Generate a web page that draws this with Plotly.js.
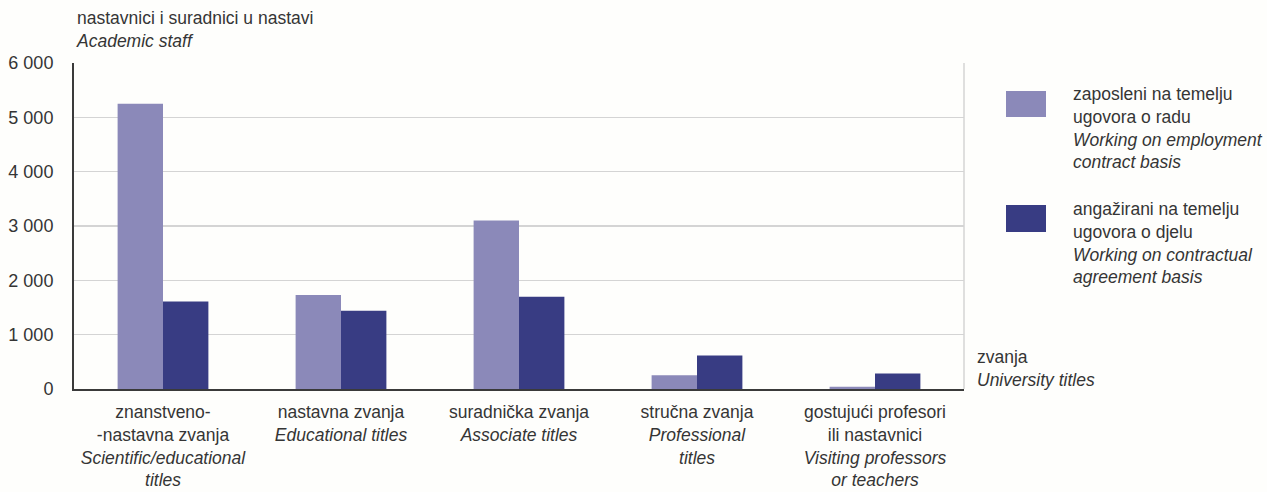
<!DOCTYPE html>
<html>
<head>
<meta charset="utf-8">
<script src="https://cdn.plot.ly/plotly-3.0.1.min.js"></script>
<style>html,body{margin:0;padding:0;background:#fefefc;}#chart{width:1267px;height:492px;}</style>
</head>
<body>
<div id="chart"></div>
<script>
const categories = [
  "znanstveno-<br>-nastavna zvanja<br><i>Scientific/educational</i><br><i>titles</i>",
  "nastavna zvanja<br><i>Educational titles</i>",
  "suradnička zvanja<br><i>Associate titles</i>",
  "stručna zvanja<br><i>Professional</i><br><i>titles</i>",
  "gostujući profesori<br>ili nastavnici<br><i>Visiting professors</i><br><i>or teachers</i>"
];
const employment = [5250, 1730, 3100, 255, 40];
const contractual = [1610, 1440, 1700, 615, 285];
const seriesNames = [
  "zaposleni na temelju<br>ugovora o radu<br><i>Working on employment</i><br><i>contract basis</i>",
  "angažirani na temelju<br>ugovora o djelu<br><i>Working on contractual</i><br><i>agreement basis</i>"
];
const seriesColors = ["#8b89b9", "#383c83"];
const yTitle = "nastavnici i suradnici u nastavi<br><i>Academic staff</i>";
const xTitle = "zvanja<br><i>University titles</i>";

const FONT = "Liberation Sans, Arial, sans-serif";
const TXT = "#353535";
const FS = 17.5;

const traces = [
  {type: "bar", x: categories, y: employment, name: seriesNames[0], marker: {color: seriesColors[0]}, showlegend: false, hoverinfo: "y"},
  {type: "bar", x: categories, y: contractual, name: seriesNames[1], marker: {color: seriesColors[1]}, showlegend: false, hoverinfo: "y"}
];

// plot area: x 74..964, y 63..389 (height 326)
const H = 326;
function py(pix) { return (389 - pix) / H; }
function px(pix) { return (pix - 74) / 890; }

const annotations = [
  {xref: "paper", yref: "paper", x: 0.0, xshift: 0, y: py(6), xanchor: "left", yanchor: "top", align: "left",
   text: yTitle, showarrow: false, font: {family: FONT, size: FS, color: TXT}},
  {xref: "paper", yref: "paper", x: 1.0, xshift: 11, y: py(345), xanchor: "left", yanchor: "top", align: "left",
   text: xTitle, showarrow: false, font: {family: FONT, size: FS, color: TXT}},
  {xref: "paper", yref: "paper", x: 1.0, xshift: 107, y: py(82), xanchor: "left", yanchor: "top", align: "left",
   text: seriesNames[0], showarrow: false, font: {family: FONT, size: FS, color: TXT}},
  {xref: "paper", yref: "paper", x: 1.0, xshift: 107, y: py(197), xanchor: "left", yanchor: "top", align: "left",
   text: seriesNames[1], showarrow: false, font: {family: FONT, size: FS, color: TXT}}
];

const shapes = [
  {type: "line", xref: "paper", yref: "paper", x0: 1, x1: 1, y0: 0, y1: 1, line: {color: "#d4d4d4", width: 1.5}},
  {type: "rect", xref: "paper", yref: "paper", x0: px(1006), x1: px(1046), y0: py(117), y1: py(91),
   fillcolor: seriesColors[0], line: {width: 0}},
  {type: "rect", xref: "paper", yref: "paper", x0: px(1006), x1: px(1046), y0: py(232), y1: py(205),
   fillcolor: seriesColors[1], line: {width: 0}}
];

const layout = {
  width: 1267, height: 492,
  margin: {l: 74, r: 303, t: 63, b: 103, pad: 0},
  paper_bgcolor: "#fefefc", plot_bgcolor: "#fefefc",
  font: {family: FONT, size: FS, color: TXT},
  separators: ", ",
  barmode: "group", bargap: 0.49, bargroupgap: 0,
  showlegend: false,
  xaxis: {
    type: "category", showgrid: false, zeroline: false,
    showline: true, linecolor: "#3a3a3a", linewidth: 2,
    ticks: "", tickfont: {family: FONT, size: FS, color: TXT},
    ticklabelstandoff: 6,
    automargin: false, fixedrange: true
  },
  yaxis: {
    range: [0, 6000], dtick: 1000, tick0: 0, tickformat: ",d",
    showgrid: true, gridcolor: "#d4d4d4", gridwidth: 1.5,
    zeroline: false, showline: true, linecolor: "#3a3a3a", linewidth: 2,
    ticks: "", ticklen: 0, tickfont: {family: FONT, size: 18, color: TXT},
    ticklabelstandoff: 15, automargin: false, fixedrange: true
  },
  annotations: annotations,
  shapes: shapes
};

Plotly.newPlot("chart", traces, layout, {displayModeBar: false, staticPlot: true});
</script>
</body>
</html>
